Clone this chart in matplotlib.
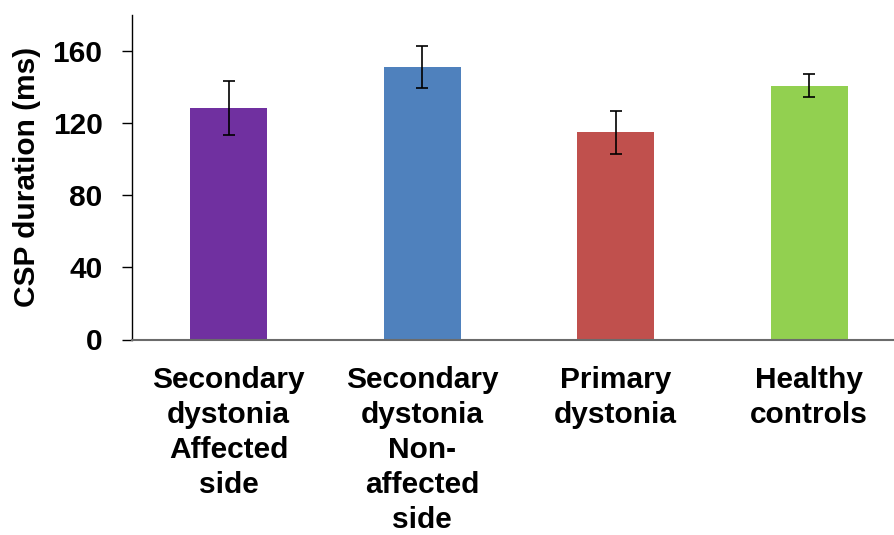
import matplotlib.pyplot as plt
import numpy as np

# datos del grafico: duracion CSP (ms) por grupo
grupos = ['Secondary\ndystonia\nAffected\nside',
          'Secondary\ndystonia\nNon-\naffected\nside',
          'Primary\ndystonia',
          'Healthy\ncontrols']
medias = [128.6, 151.2, 114.9, 140.8]
errores = [15.0, 11.5, 11.8, 6.4]
colores = ['#7030A0', '#4F81BD', '#C0504D', '#92D050']
ticks_y = [0, 40, 80, 120, 160]

plt.rcParams['font.family'] = ['Liberation Sans', 'DejaVu Sans']
plt.rcParams['font.weight'] = 'bold'

fig = plt.figure(figsize=(8.95, 5.35), dpi=100)
ax = fig.add_axes([132 / 895, 1 - 339.5 / 535, 774 / 895, 324.5 / 535])

x = np.arange(len(grupos))
ax.bar(x, medias, width=0.4, color=colores, zorder=2)
ax.errorbar(x, medias, yerr=errores, fmt='none', ecolor='black',
            elinewidth=1.2, capsize=4.3, capthick=1.2, zorder=3)

ax.set_xlim(-0.5, len(grupos) - 0.5)
ax.set_ylim(0, 180)
ax.set_yticks(ticks_y)
ax.set_xticks(x)
ax.set_xticklabels(grupos, fontsize=21.5, fontweight='bold', linespacing=1.32)
ax.tick_params(axis='x', length=0, pad=19)
ax.tick_params(axis='y', length=7.2, width=1, direction='out', pad=14,
               labelsize=21.5)
for lab in ax.get_yticklabels():
    lab.set_fontweight('bold')

ax.set_ylabel('CSP duration (ms)', fontsize=21.5, fontweight='bold', labelpad=8)

ax.spines['top'].set_visible(False)
ax.spines['right'].set_visible(False)
ax.spines['left'].set_color('black')
ax.spines['left'].set_linewidth(1)
ax.spines['bottom'].set_color('#6b6b6b')
ax.spines['bottom'].set_linewidth(1.5)

plt.savefig('out.png', dpi=100)
